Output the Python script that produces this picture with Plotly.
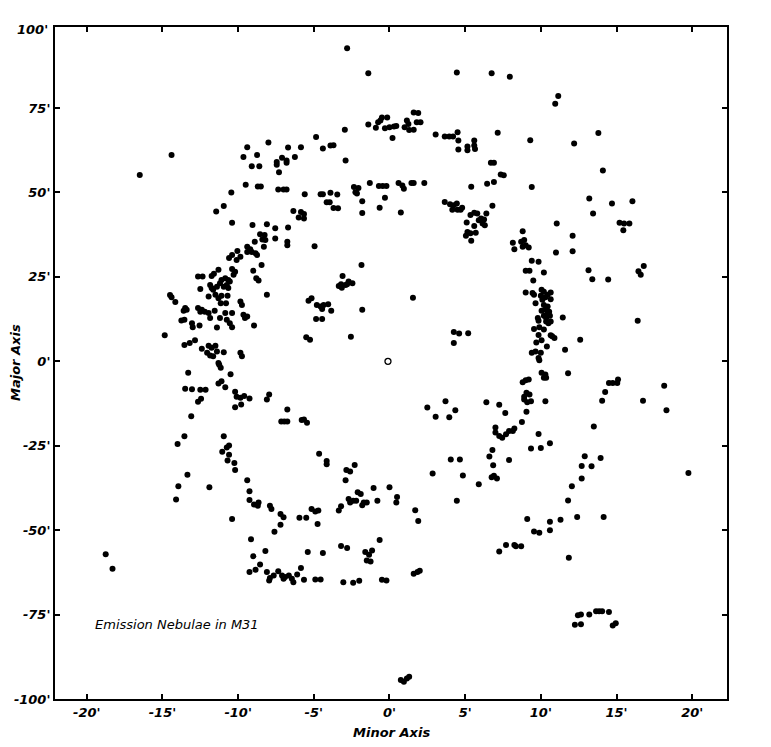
import plotly.graph_objects as go

# positions of emission nebulae (minor axis ', major axis ')
north = [
    (-8.0, 64.8), (-9.4, 63.4), (-14.4, 61.1), (-9.65, 60.5), (-8.75, 61.1), (-9.1, 57.8), (-8.6, 57.8),
    (-7.45, 59.0), (-7.45, 58.2), (-7.1, 60.3), (-7.3, 56.0), (-16.5, 55.2), (-9.5, 52.3), (-8.7, 51.8),
    (-8.5, 51.8), (-10.45, 50.0), (-7.35, 50.9), (-7.0, 50.9), (-6.8, 50.9),
    (-2.8, 92.7), (-1.4, 85.3), (4.45, 85.5), (6.75, 85.3), (7.95, 84.3),
    (1.6, 73.7), (1.9, 73.5), (-0.5, 72.2), (-0.15, 72.2), (-0.75, 70.8), (-0.6, 71.3), (-1.4, 70.1),
    (-0.9, 69.2), (-0.3, 69.0), (0.0, 69.3), (0.3, 69.5), (0.45, 69.7), (1.15, 71.3), (1.25, 70.3),
    (1.0, 69.3), (1.3, 68.5), (1.6, 68.6), (1.8, 70.8), (2.05, 70.8),
    (0.2, 66.1), (3.05, 67.2), (3.65, 66.6), (3.95, 66.6), (4.2, 66.6), (4.5, 67.8), (4.55, 65.4),
    (4.55, 62.7), (5.15, 63.6), (5.15, 62.5), (5.6, 65.4), (5.6, 63.9), (5.65, 62.9), (7.15, 67.7),
    (6.7, 58.8), (6.9, 58.8), (7.35, 55.3), (7.55, 55.1),
    (-2.95, 68.6), (-4.85, 66.4), (-6.7, 63.3), (-5.85, 63.4), (-4.4, 63.0), (-3.9, 63.9), (-3.7, 64.0),
    (-6.8, 59.5), (-6.8, 58.8), (-6.25, 60.5), (-2.9, 59.5),
    (5.4, 51.7), (6.45, 52.6), (6.9, 53.1), (2.3, 52.8), (1.45, 52.8), (1.6, 52.8), (0.6, 52.8),
    (0.85, 52.1), (0.95, 51.1), (-0.7, 51.9), (-0.45, 51.9), (-0.2, 51.9), (-1.3, 52.8), (-2.35, 51.6),
    (-2.05, 51.3), (-2.25, 50.1), (-2.15, 49.7),
    (-5.6, 49.5), (-4.55, 49.5), (-4.4, 49.5), (-3.9, 49.9), (-3.45, 49.4),
    (11.15, 78.6), (10.95, 76.3), (9.3, 65.5), (12.2, 64.5), (13.8, 67.6), (14.1, 56.5), (9.4, 51.6),
]

northwest = [
    (-10.95, 46.0), (-11.45, 44.4), (-10.4, 41.0), (-9.05, 40.4), (-8.1, 40.6), (-7.55, 39.4), (-7.55, 36.4),
    (-8.55, 37.6), (-8.25, 37.4), (-8.4, 36.1), (-8.2, 35.9), (-8.3, 33.9), (-8.9, 35.4),
    (-9.4, 33.9), (-9.2, 33.2), (-9.1, 32.4), (-8.85, 32.0), (-9.4, 32.4), (-8.75, 31.5),
    (-10.05, 32.7), (-9.85, 31.0), (-10.1, 30.0), (-10.6, 30.6), (-10.4, 31.5),
    (-8.45, 28.5), (-9.0, 26.8), (-8.8, 24.6), (-8.65, 23.9), (-8.1, 19.7),
    (-11.3, 27.1), (-10.4, 27.3), (-10.2, 26.5), (-10.3, 25.6), (-11.75, 25.3), (-11.6, 25.9),
    (-12.65, 25.1), (-12.35, 25.1),
    (-11.1, 24.1), (-10.85, 24.6), (-10.65, 24.1), (-11.2, 23.1), (-10.75, 22.6), (-10.95, 22.1),
    (-10.65, 21.7), (-10.55, 23.6),
    (-11.85, 22.6), (-11.75, 21.7), (-11.65, 21.2), (-11.4, 22.1), (-12.5, 21.4),
    (-11.95, 19.2), (-11.5, 19.7), (-11.3, 18.7), (-11.1, 19.4), (-10.7, 19.4), (-11.15, 17.2), (-10.8, 17.2),
    (-14.5, 19.6), (-14.4, 19.0), (-14.15, 17.6), (-9.85, 17.7), (-9.75, 16.7),
    (-13.5, 15.8), (-13.4, 15.3), (-13.6, 15.0), (-12.65, 15.8), (-12.4, 15.3), (-12.2, 14.7),
    (-11.95, 14.3), (-12.5, 14.7), (-11.55, 15.0),
    (-11.85, 12.8), (-11.2, 12.8), (-10.85, 14.3), (-10.4, 14.3), (-10.75, 12.3), (-10.55, 11.3), (-10.4, 10.1),
    (-9.65, 13.8), (-9.4, 13.3), (-9.55, 12.8), (-8.95, 10.6),
    (-13.75, 12.1), (-13.55, 12.3), (-13.05, 11.3), (-13.0, 10.1), (-12.55, 10.6), (-11.4, 10.0), (-14.85, 7.7),
    (-13.55, 4.8), (-13.2, 5.4), (-12.85, 6.2),
    (-12.4, 3.7), (-11.95, 4.6), (-11.75, 4.0), (-11.5, 4.6), (-12.05, 2.5), (-11.85, 1.7), (-11.4, 2.9),
    (-11.65, 1.5), (-10.95, 2.7), (-9.85, 2.5), (-9.75, 1.5), (-11.3, -0.5),
]

central = [
    (-1.8, 47.4), (-1.8, 43.9), (-0.3, 48.4), (-0.65, 45.5), (0.75, 44.1), (-4.15, 47.1), (-3.95, 47.1),
    (-3.7, 45.4), (-3.4, 45.3),
    (-6.35, 44.5), (-5.85, 44.2), (-5.65, 43.6), (-6.0, 42.6), (-5.65, 42.3), (-6.7, 39.6), (-6.75, 35.4),
    (-6.75, 34.4), (-4.95, 34.1),
    (-1.85, 28.5), (-3.1, 25.3), (-3.35, 22.3), (-3.15, 21.8), (-2.9, 22.6), (-2.7, 23.6), (-2.45, 23.1),
    (-2.8, 22.8), (-3.2, 22.8),
    (1.55, 18.8), (-5.35, 17.9), (-5.15, 18.7), (-4.8, 16.7), (-4.55, 16.2), (-4.35, 16.7), (-4.05, 16.9),
    (-4.45, 15.5), (-3.85, 15.0), (-1.8, 15.3), (-4.85, 12.5), (-4.45, 12.5), (-5.5, 7.1), (-5.25, 6.4),
    (-2.55, 7.3),
    (4.25, 8.7), (4.6, 8.2), (5.2, 8.3), (4.25, 5.4),
    (3.65, 47.2), (4.0, 46.5), (4.25, 46.2), (4.45, 46.7), (4.8, 45.5), (4.15, 44.9), (4.5, 44.9), (4.7, 44.9),
    (6.8, 46.1), (6.4, 43.8),
    (5.35, 43.3), (5.6, 44.0), (5.8, 43.8), (6.05, 42.3), (6.25, 42.0), (6.15, 40.8), (6.3, 40.3), (5.9, 41.8),
    (5.1, 41.1), (5.6, 40.1), (5.15, 38.3), (5.35, 37.9), (5.7, 38.1), (5.05, 37.2), (5.4, 35.7),
]

east = [
    (13.2, 48.2), (14.7, 46.7), (16.05, 47.4), (13.45, 43.8), (15.2, 41.0), (15.5, 40.8), (15.85, 40.8),
    (15.45, 38.8), (11.05, 40.8), (12.1, 37.2), (11.0, 32.2), (12.1, 32.6),
    (8.8, 38.5), (8.15, 35.1), (8.25, 33.2), (8.7, 35.4), (8.9, 35.9), (8.8, 33.9), (9.0, 34.4), (9.2, 33.7),
    (9.4, 29.8), (9.85, 29.5), (9.0, 26.8), (9.25, 26.8), (10.2, 26.3), (9.5, 23.9), (13.15, 27.0),
    (13.4, 24.3), (14.45, 24.2), (16.8, 28.2), (16.45, 26.7), (16.6, 25.6),
    (9.0, 20.4), (9.45, 20.2), (9.55, 19.7), (10.05, 21.2), (10.2, 20.6), (10.0, 19.4), (10.3, 19.0),
    (10.1, 18.2), (10.45, 19.7), (10.65, 20.4), (10.65, 18.4),
    (9.65, 17.2), (10.2, 16.7), (10.45, 16.2), (10.3, 15.3), (10.45, 14.3), (10.05, 15.0), (10.55, 14.7),
    (10.2, 13.5), (10.35, 12.8), (10.6, 13.5),
    (9.8, 12.8), (9.85, 12.0), (10.35, 11.8), (10.5, 11.3), (10.65, 11.8), (11.45, 13.0), (16.4, 12.0),
    (9.55, 9.6), (9.9, 10.1), (10.2, 9.4), (9.85, 7.8), (10.65, 7.7), (10.9, 6.9), (10.75, 7.4), (10.05, 6.2),
    (9.7, 5.6), (10.4, 4.4), (12.6, 6.4), (11.6, 3.4),
    (9.4, 2.5), (9.65, 2.9), (10.0, 2.5), (9.85, 1.0), (9.9, 0.3),
]

southwest = [
    (-13.3, -3.4), (-11.25, -1.0), (-11.15, -1.9), (-10.5, -3.8), (-11.3, -6.6), (-11.1, -5.9), (-10.85, -7.7),
    (-13.5, -8.1), (-13.05, -8.3), (-12.5, -8.4), (-12.15, -8.4), (-12.65, -12.0), (-12.45, -11.1),
    (-10.2, -9.0), (-10.1, -10.5), (-9.85, -10.8), (-9.6, -10.3), (-9.25, -11.0), (-10.2, -13.6), (-9.8, -12.8),
    (-8.1, -11.3), (-7.95, -9.8), (-13.1, -16.3), (-7.15, -17.8), (-6.95, -17.8),
    (-13.55, -22.2), (-14.0, -24.5), (-10.95, -22.2), (-10.75, -25.5), (-10.6, -24.9), (-11.05, -26.8),
    (-10.6, -27.7), (-10.7, -29.4), (-10.25, -30.1), (-10.2, -32.2),
    (-13.35, -33.6), (-13.95, -37.0), (-11.9, -37.3), (-14.1, -40.9), (-9.4, -35.2), (-9.25, -38.5),
    (-9.25, -41.1), (-8.95, -42.4), (-8.7, -42.8), (-8.65, -41.8), (-7.9, -42.8), (-7.8, -43.7),
    (-7.2, -45.2), (-7.0, -46.2), (-7.2, -48.4), (-10.4, -46.7), (-7.6, -50.5),
]

south_central = [
    (-6.75, -14.3), (-6.75, -17.8), (-5.8, -17.4), (-5.65, -17.2), (-5.45, -18.2), (-4.65, -27.4),
    (-4.15, -29.5), (-4.15, -30.5), (-2.85, -32.2), (-2.6, -32.6), (-2.3, -30.7), (-2.9, -35.2),
    (-1.05, -37.5), (0.0, -37.3), (0.5, -40.2), (0.45, -41.8), (-0.8, -41.3), (-2.1, -38.8), (-1.9, -39.3),
    (-2.7, -40.8), (-2.6, -41.8), (-2.4, -41.3), (-2.2, -41.3), (-1.8, -42.6), (-1.7, -41.8), (-1.5, -41.8),
    (-3.2, -42.9), (-3.35, -44.2), (-5.15, -43.7), (-4.9, -44.5), (-4.7, -44.2), (-5.95, -46.3),
    (-5.5, -46.3), (-4.75, -48.2), (1.7, -44.1), (1.9, -47.3),
    (2.5, -13.7), (3.05, -16.4), (3.7, -11.8), (3.95, -16.6), (4.35, -14.5), (2.85, -33.2), (4.05, -29.1),
    (4.65, -29.1), (4.85, -33.8), (4.45, -41.3), (5.9, -36.4),
    (6.4, -12.1), (7.25, -12.9), (7.65, -15.3), (7.0, -19.6), (7.0, -21.1), (7.25, -22.1), (7.45, -22.6),
    (7.7, -21.6), (7.9, -20.6), (8.15, -20.6), (8.25, -19.9), (6.8, -26.3), (6.6, -28.2), (6.85, -30.8),
    (7.9, -29.2), (6.75, -34.3), (6.9, -33.9), (7.1, -34.7),
]

southeast = [
    (10.05, -3.4), (10.3, -3.9), (10.2, -4.9), (10.35, -4.9), (11.8, -3.5), (8.8, -6.2), (9.0, -5.6),
    (9.2, -5.4), (8.9, -10.5), (9.05, -9.3), (9.25, -9.8), (8.9, -11.3), (9.1, -12.1), (9.35, -11.8),
    (10.3, -11.8), (9.05, -14.9), (8.75, -18.0), (9.85, -21.5), (9.35, -25.8), (10.0, -25.7), (10.6, -24.3),
    (14.5, -6.4), (14.75, -6.4), (15.1, -5.4), (15.05, -6.4), (14.25, -9.1), (14.05, -11.7), (16.75, -11.7),
    (18.15, -7.2), (18.3, -14.5), (13.5, -19.3), (12.9, -28.1), (12.7, -31.0), (13.35, -31.1), (13.95, -28.6),
    (12.7, -34.7), (12.05, -37.0), (11.8, -41.2), (19.75, -33.1),
    (12.4, -46.1), (14.15, -46.1), (11.3, -46.9), (10.6, -47.5), (9.1, -46.7), (9.55, -50.4), (9.9, -50.8),
    (10.6, -50.0),
]

south = [
    (-18.75, -57.1), (-18.3, -61.4), (-9.15, -52.7), (-9.0, -57.7), (-8.2, -56.2), (-8.55, -60.2),
    (-8.85, -61.7), (-9.25, -62.4), (-8.1, -62.4), (-7.9, -64.2), (-7.65, -63.4), (-7.95, -64.9),
    (-7.35, -62.2), (-7.1, -63.4), (-7.0, -64.4),
    (-6.9, -63.9), (-6.65, -63.4), (-6.45, -64.4), (-6.35, -65.4), (-6.1, -63.1), (-5.85, -61.2),
    (-5.65, -64.7), (-5.4, -56.5), (-4.4, -56.8), (-4.9, -64.6), (-4.55, -64.6), (-3.2, -54.7), (-2.8, -55.3),
    (-3.05, -65.4), (-2.4, -65.6), (-2.0, -65.0), (-0.65, -52.9), (-1.6, -56.5), (-1.35, -57.3),
    (-1.5, -59.0), (-1.25, -59.3), (-1.15, -56.0), (-0.5, -64.7), (-0.2, -64.9), (1.6, -62.9), (1.85, -62.4),
    (2.0, -62.0),
    (0.75, -94.4), (0.95, -94.9), (1.15, -93.9), (1.3, -93.4), (7.25, -56.3), (7.7, -54.4), (8.25, -54.4),
    (8.35, -54.8), (8.7, -54.8), (11.85, -58.2),
    (12.45, -75.2), (12.65, -75.0), (13.2, -75.0), (13.65, -74.0), (13.85, -74.0), (14.05, -74.0),
    (14.5, -74.2), (12.25, -78.0), (12.65, -77.9), (14.75, -78.2), (14.95, -77.6),
]

nucleus = [(-0.1, 0.0)]

groups = [north, northwest, central, east, southwest, south_central, southeast, south]

x_ticks = [-20, -15, -10, -5, 0, 5, 10, 15, 20]
y_ticks = [-100, -75, -50, -25, 0, 25, 50, 75]

FONT = "DejaVu Sans"

fig = go.Figure()
for g in groups:
    fig.add_trace(go.Scatter(
        x=[p[0] for p in g], y=[p[1] for p in g], mode="markers",
        marker=dict(size=6, color="black", line=dict(width=0)),
        showlegend=False, hoverinfo="skip",
    ))

fig.add_trace(go.Scatter(
    x=[p[0] for p in nucleus], y=[p[1] for p in nucleus], mode="markers",
    marker=dict(size=6, color="white", line=dict(width=1.3, color="black")),
    showlegend=False, hoverinfo="skip",
))

tick_font = dict(family=FONT, size=13, color="black", style="italic", weight="bold")

fig.update_xaxes(
    range=[-22.1, 22.3], tickvals=x_ticks, ticktext=[f"{v}'" for v in x_ticks],
    ticks="inside", ticklen=5, tickwidth=1.5, tickcolor="black",
    showline=True, linewidth=2, linecolor="black", mirror="ticks",
    showgrid=False, zeroline=False, tickfont=tick_font, automargin=False,
)
fig.update_yaxes(
    range=[-100, 99], tickvals=y_ticks, ticktext=[f"{v}'" for v in y_ticks],
    ticks="inside", ticklen=5, tickwidth=1.5, tickcolor="black",
    showline=True, linewidth=2, linecolor="black", mirror="ticks",
    showgrid=False, zeroline=False, tickfont=tick_font, automargin=False,
)

fig.add_annotation(x=0, y=1, xref="paper", yref="paper", text="100'", showarrow=False,
                   xanchor="right", yanchor="middle", xshift=-5, yshift=-2, font=tick_font)
fig.add_annotation(x=0.5, y=0, xref="paper", yref="paper", text="Minor Axis", showarrow=False,
                   xanchor="center", yanchor="middle", yshift=-33,
                   font=dict(family=FONT, size=13, color="black", style="italic", weight="bold"))
fig.add_annotation(x=0, y=0.5, xref="paper", yref="paper", text="Major Axis", showarrow=False,
                   textangle=-90, xanchor="center", yanchor="middle", xshift=-40,
                   font=dict(family=FONT, size=13, color="black", style="italic", weight="bold"))
fig.add_annotation(x=-19.6, y=-77.8, text="Emission Nebulae in M31", showarrow=False,
                   xanchor="left", yanchor="middle",
                   font=dict(family=FONT, size=13, color="black", style="italic"))

# the page adds an 8px body margin, so the margins are shifted to compensate
fig.update_layout(
    width=771, height=747,
    margin=dict(l=47, r=52, t=19, b=56),
    paper_bgcolor="white", plot_bgcolor="white",
)

fig.write_html("out.html")
